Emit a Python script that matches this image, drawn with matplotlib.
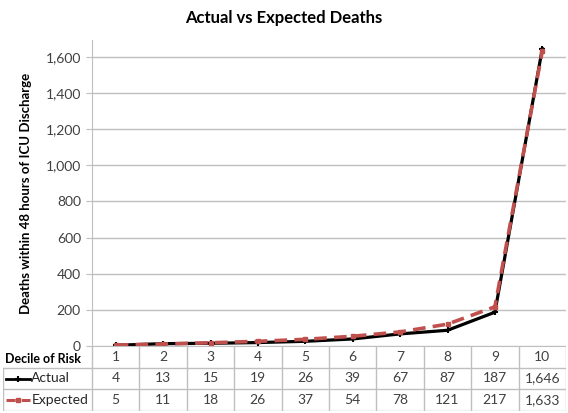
import numpy as np
import matplotlib
matplotlib.use("Agg")
from matplotlib import pyplot as plt

plt.rcParams['font.family'] = ['Lato', 'DejaVu Sans']

deciles = [1, 2, 3, 4, 5, 6, 7, 8, 9, 10]
actual = [4, 13, 15, 19, 26, 39, 67, 87, 187, 1646]
expected = [5, 11, 18, 26, 37, 54, 78, 121, 217, 1633]
row_names = ['Actual', 'Expected']
yticks = [0, 200, 400, 600, 800, 1000, 1200, 1400, 1600]

W, H = 568, 413
red = '#c0504d'
grid = '#bfbfbf'

fig = plt.figure(figsize=(W / 100, H / 100), dpi=100)

# plot area in pixel terms
x0, x1 = 92, 566
ytop, ybot = 40, 346
ax = fig.add_axes([x0 / W, 1 - ybot / H, (x1 - x0) / W, (ybot - ytop) / H])

ax.plot(deciles, actual, color='black', lw=2.3, marker='+', ms=4, mew=1.5, zorder=3)
ax.plot(deciles, expected, color=red, lw=2.6, ls=(0, (3.5, 2)), marker='s', ms=3, zorder=4)

ax.set_xlim(0.5, 10.5)
ax.set_ylim(0, 1694)
ax.set_yticks(yticks)
ax.set_yticklabels(['{:,}'.format(v) for v in yticks], fontsize=10, color='#404040')
ax.set_xticks([])
ax.grid(axis='y', color=grid, lw=1)
ax.set_axisbelow(True)
for s in ['top', 'right', 'bottom']:
    ax.spines[s].set_visible(False)
ax.spines['left'].set_color(grid)
ax.tick_params(axis='y', length=4, color=grid, pad=4)
ax.set_ylabel('Deaths within 48 hours of ICU Discharge', fontsize=9.5, fontweight='bold', labelpad=10)
fig.text(0.5, 1 - 18 / H, 'Actual vs Expected Deaths', ha='center', va='center',
         fontsize=12, fontweight='bold')

# data table underneath, sharing the category axis
cw = (x1 - x0) / 10.0
left_edge = 0.5 - (x0 - 3) / cw
tax = fig.add_axes([3 / W, 1 - 411 / H, (x1 - 3) / W, (411 - ybot) / H])
tax.set_xlim(left_edge, 10.5)
tax.set_ylim(3, 0)
tax.axis('off')

bounds = np.arange(0.5, 11.5, 1.0)
for b in bounds:
    tax.plot([b, b], [0, 3], color=grid, lw=1)
tax.plot([0.5, 10.5], [0, 0], color=grid, lw=1.5)
for r in [1, 2, 3]:
    tax.plot([left_edge, 10.5], [r, r], color=grid, lw=1)
tax.plot([left_edge, left_edge], [1, 3], color=grid, lw=1)

tax.text(left_edge + 0.05, 0.62, 'Decile of Risk', ha='left', va='center', fontsize=9, fontweight='bold')
for d in deciles:
    tax.text(d, 0.5, str(d), ha='center', va='center', fontsize=10, color='#404040')
for i, (name, vals) in enumerate(zip(row_names, [actual, expected])):
    y = 1.5 + i
    xs = [left_edge + 0.06, left_edge + 0.58]
    if name == 'Actual':
        tax.plot(xs, [y, y], color='black', lw=2)
        tax.plot([np.mean(xs)], [y], color='black', marker='+', ms=4, mew=1.5)
    else:
        tax.plot(xs, [y, y], color=red, lw=2.2, ls=(0, (3, 2)))
        tax.plot([np.mean(xs)], [y], color=red, marker='s', ms=3)
    tax.text(xs[1] + 0.02, y, name, ha='left', va='center', fontsize=10, color='#262626')
    for d, v in zip(deciles, vals):
        tax.text(d, y, '{:,}'.format(v), ha='center', va='center', fontsize=10, color='#404040')

fig.savefig('out.png', dpi=100)
